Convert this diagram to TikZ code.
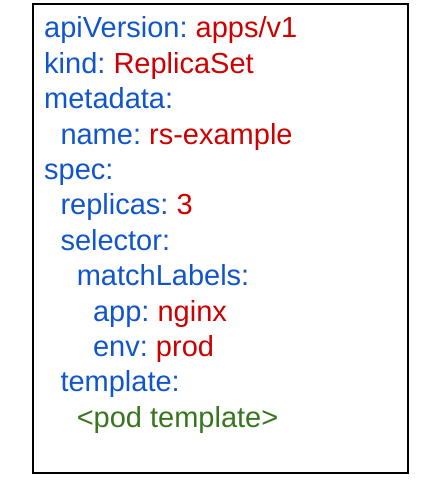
\documentclass[tikz,border=0pt]{standalone}
\usepackage{fontspec}
\setmainfont{Liberation Sans}
\definecolor{keyblue}{HTML}{1155CC}
\definecolor{valred}{HTML}{CC0000}
\definecolor{tplgreen}{HTML}{38761D}
\frenchspacing
\begin{document}
\begin{tikzpicture}[x=1pt,y=1pt,
  yamlline/.style={anchor=base west,inner sep=0pt,font=\fontsize{29}{35.4}\selectfont\frenchspacing,text=keyblue},
  frame/.style={draw=black,line width=2.2pt}]
\useasboundingbox (0,0) rectangle (426,487);
\node[frame,minimum width=375pt,minimum height=469pt,anchor=south west,inner sep=0pt] (box) at (32,13) {};
\def\ind{16.3}
\node[yamlline] (l1) at (44,{487-38}) {apiVersion: \textcolor{valred}{apps/v1}};
\node[yamlline] (l2) at (44,{487-38-35.4}) {kind: \textcolor{valred}{ReplicaSet}};
\node[yamlline] (l3) at (44,{487-38-2*35.4}) {metadata:};
\node[yamlline] (l4) at ({44+\ind},{487-38-3*35.4}) {name: \textcolor{valred}{rs-example}};
\node[yamlline] (l5) at (44,{487-38-4*35.4}) {spec:};
\node[yamlline] (l6) at ({44+\ind},{487-38-5*35.4}) {replicas: \textcolor{valred}{3}};
\node[yamlline] (l7) at ({44+\ind},{487-38-6*35.4}) {selector:};
\node[yamlline] (l8) at ({44+2*\ind},{487-38-7*35.4}) {matchLabels:};
\node[yamlline] (l9) at ({44+3*\ind},{487-38-8*35.4}) {app: \textcolor{valred}{nginx}};
\node[yamlline] (l10) at ({44+3*\ind},{487-38-9*35.4}) {env: \textcolor{valred}{prod}};
\node[yamlline] (l11) at ({44+\ind},{487-38-10*35.4}) {template:};
\node[yamlline,text=tplgreen] (l12) at ({44+2*\ind},{487-38-11*35.4}) {<pod template>};
\end{tikzpicture}
\end{document}
